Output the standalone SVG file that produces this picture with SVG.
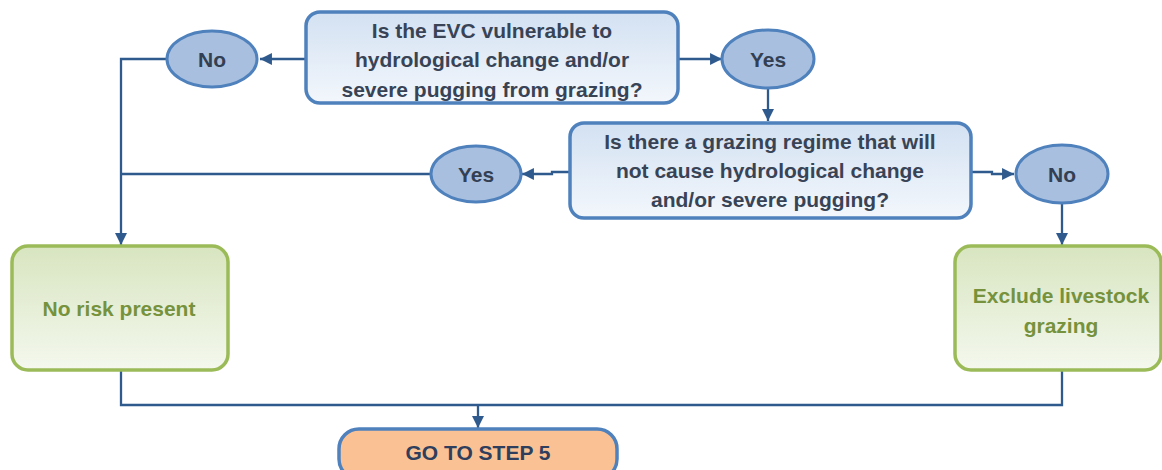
<svg xmlns="http://www.w3.org/2000/svg" width="1162" height="470" viewBox="0 0 1162 470">
<defs>
<linearGradient id="gBlue" x1="0" y1="0" x2="0" y2="1"><stop offset="0" stop-color="#D3E1F2"/><stop offset="1" stop-color="#F3F7FC"/></linearGradient>
<linearGradient id="gGreen" x1="0" y1="0" x2="0" y2="1"><stop offset="0" stop-color="#D8E5C0"/><stop offset="1" stop-color="#F4F8EE"/></linearGradient>
<marker id="arr" viewBox="0 0 10 10" refX="10" refY="5" markerWidth="5.2" markerHeight="5.2" orient="auto"><path d="M0,0 L10,5 L0,10 z" fill="#2F5A8E"/></marker>
<style>
.q{fill:url(#gBlue);stroke:#4F81BD;stroke-width:3.5}
.e{fill:#A8BFDF;stroke:#4F81BD;stroke-width:3}
.g{fill:url(#gGreen);stroke:#9BBB59;stroke-width:3.5}
.o{fill:#FAC294;stroke:#4F81BD;stroke-width:3.5}
.c{fill:none;stroke:#2F5A8E;stroke-width:2.3}
text{font-family:"Liberation Sans",Arial,sans-serif;font-weight:bold;font-size:21px;text-anchor:middle}
.tq{fill:#384456}
.te{fill:#333F52}
.tg{fill:#76923C}
.to{fill:#2E3E5C}
</style>
</defs>
<g id="connectors">
<path class="c" d="M305,59 L260,59" marker-end="url(#arr)"/>
<path class="c" d="M678,59 L722,59" marker-end="url(#arr)"/>
<path class="c" d="M167,59 L121,59 L121,245" marker-end="url(#arr)"/>
<path class="c" d="M768,89 L768,121" marker-end="url(#arr)"/>
<path class="c" d="M570,172 L552,172 L552,174 L522,174" marker-end="url(#arr)"/>
<path class="c" d="M431,174 L121,174"/>
<path class="c" d="M972,172 L992,172 L992,174 L1014,174" marker-end="url(#arr)"/>
<path class="c" d="M1062,204 L1062,245" marker-end="url(#arr)"/>
<path class="c" d="M121,371 L121,405 L1062,405 L1062,371"/>
<path class="c" d="M478,405 L478,428" marker-end="url(#arr)"/>
</g>
<g id="q1">
<rect class="q" x="306" y="12" width="372" height="91" rx="14"/>
<text class="tq" x="492" y="38">Is the EVC vulnerable to</text>
<text class="tq" x="492" y="67">hydrological change and/or</text>
<text class="tq" x="492" y="97">severe pugging from grazing?</text>
</g>
<g id="no1">
<ellipse class="e" cx="212" cy="59" rx="45" ry="28"/>
<text class="te" x="212" y="67">No</text>
</g>
<g id="yes1">
<ellipse class="e" cx="768" cy="59" rx="46" ry="29"/>
<text class="te" x="768" y="67">Yes</text>
</g>
<g id="q2">
<rect class="q" x="570" y="123" width="401" height="95" rx="14"/>
<text class="tq" x="770" y="149">Is there a grazing regime that will</text>
<text class="tq" x="770" y="178">not cause hydrological change</text>
<text class="tq" x="770" y="207">and/or severe pugging?</text>
</g>
<g id="yes2">
<ellipse class="e" cx="476" cy="174" rx="45" ry="28"/>
<text class="te" x="476" y="182">Yes</text>
</g>
<g id="no2">
<ellipse class="e" cx="1062" cy="174" rx="46" ry="29"/>
<text class="te" x="1062" y="182">No</text>
</g>
<g id="norisk">
<rect class="g" x="12" y="246" width="216" height="124" rx="16"/>
<text class="tg" x="119" y="316">No risk present</text>
</g>
<g id="exclude">
<rect class="g" x="955" y="246" width="206" height="124" rx="16"/>
<text class="tg" x="1061" y="303">Exclude livestock</text>
<text class="tg" x="1061" y="333">grazing</text>
</g>
<g id="step5">
<rect class="o" x="339" y="429" width="278" height="50" rx="20"/>
<text class="to" x="478" y="460">GO TO STEP 5</text>
</g>
</svg>
